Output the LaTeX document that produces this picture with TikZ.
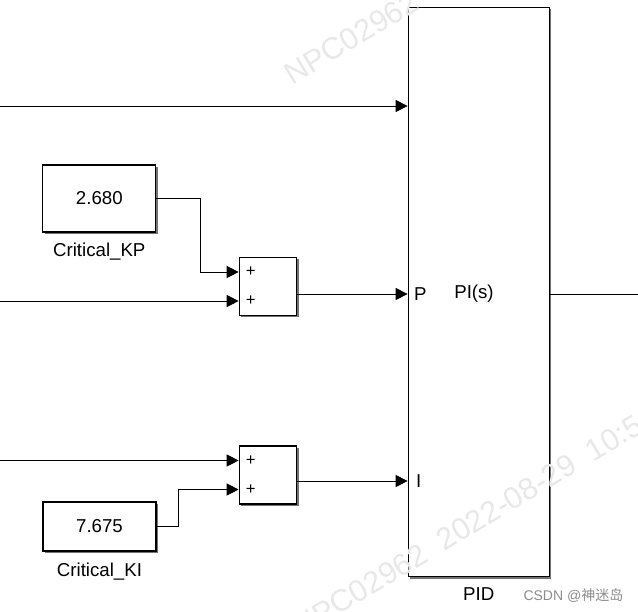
\documentclass[tikz,border=0pt]{standalone}
\usepackage{fontspec}
\setmainfont{Liberation Sans}
\newfontfamily\cjk{Noto Sans CJK SC}
\usetikzlibrary{arrows.meta,shadows,positioning}

\tikzset{every picture/.style={line width=0.75pt},
  blk/.style={draw, line width=1pt, fill=white, inner sep=0pt,
    drop shadow={shadow xshift=1.4pt, shadow yshift=-1.4pt, opacity=1, fill=black!55}},
  sig/.style={-{Triangle[length=9pt,width=9pt]}},
  txt/.style={inner sep=0pt, font=\fontsize{14}{16}\selectfont},
  plus/.style={inner sep=0pt, font=\fontsize{12.5}{13}\selectfont},
  wmark/.style={inner sep=0pt, text=black!9, font=\fontsize{23}{26}\selectfont}}

\begin{document}
\begin{tikzpicture}[x=0.75pt,y=0.75pt,yscale=-1,xscale=1]
    \useasboundingbox (0,0) rectangle (638,611);

    % blocks
    \node [blk, txt, minimum width=105.75pt, minimum height=427pt] (pid) at (478.8,292) {};
    \node [blk, minimum width=43pt, minimum height=43.5pt] (sum1) at (268,286.5) {};
    \node [blk, minimum width=43pt, minimum height=43.5pt] (sum2) at (268,475) {};
    \node [blk, txt, minimum width=84.75pt, minimum height=50.25pt] (kp) at (99.3,198.5) {2.680};
    \node [blk, txt, minimum width=84.75pt, minimum height=36.75pt] (ki) at (99.5,526.5) {7.675};
    \node [txt] (pidtf) at (474,294) {PI(s)};

    % block names
    \node [txt, below=7.3pt of kp] (kpname) {Critical\_KP};
    \node [txt, below=8pt of ki] (kiname) {Critical\_KI};
    \node [txt, below=7.6pt of pid] (pidname) {PID};

    % ports
    \path (pid.west) ++(0,-186) coordinate (pIn);
    \path (pid.west) ++(0,2) coordinate (pP);
    \path (pid.west) ++(0,189) coordinate (pI);
    \path (sum1.west) ++(0,-14.5) coordinate (s1a) ++(0,29) coordinate (s1b);
    \path (sum2.west) ++(0,-14.5) coordinate (s2a) ++(0,29) coordinate (s2b);
    \node [txt, anchor=west, right=4.5pt of pP] (plabel) {P};
    \node [txt, anchor=west, right=6pt of pI] (ilabel) {I};
    \node [plus, right=5pt of s1a] (s1ap) {+};
    \node [plus, right=5pt of s1b] (s1bp) {+};
    \node [plus, right=5pt of s2a] (s2ap) {+};
    \node [plus, right=5pt of s2b] (s2bp) {+};

    % free ends
    \coordinate (in1) at (0,106);
    \coordinate (in2) at (0,301);
    \coordinate (in3) at (0,460.5);
    \coordinate (out) at (638,294);

    % signals
    \draw [sig] (in1) -- (in1 -| pid.west);
    \draw [sig] (in2) -- (s1b);
    \draw [sig] (in3) -- (s2a);
    \draw [sig] (kp.east) -- ++(44,0) |- (s1a);
    \draw [sig] (ki.east) -- ++(21.5,0) |- (s2b);
    \draw [sig] (sum1.east |- pP) -- (pP);
    \draw [sig] (sum2.east |- pI) -- (pI);
    \draw (pid.east |- out) -- (out);

    % watermark
    \node [wmark, anchor=base west, rotate=31] (wmtop) at (292,86) {NPC02962\ \ 2022-08-29\ \ 10:5};
    \node [wmark, anchor=base west, rotate=31] (wmbot) at (301,638) {NPC02962\ \ 2022-08-29\ \ 10:5};

    % site mark
    \node [inner sep=0pt, anchor=base west, text=black!45, font=\fontsize{10.5}{12}\selectfont] (csdn) at (523,600.5) {CSDN @{\cjk 神迷岛}};

\end{tikzpicture}
\end{document}
